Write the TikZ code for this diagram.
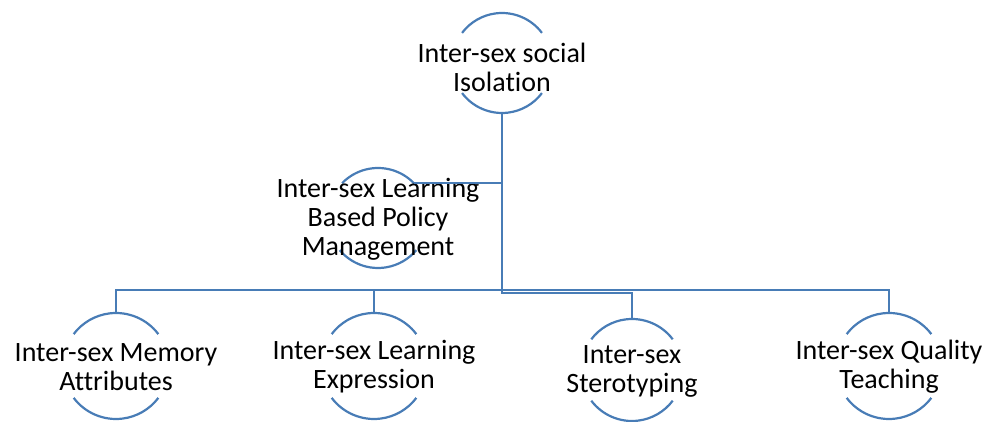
\documentclass[tikz,border=0pt]{standalone}
\usepackage{fontspec}
\setmainfont{Carlito}[Ligatures={NoCommon}]
\definecolor{lineblue}{RGB}{72,124,182}
\begin{document}
\begin{tikzpicture}[x=1pt,y=1pt,
  conn/.style={draw=lineblue,line width=2.2pt},
  arcline/.style={draw=lineblue,line width=2.2pt},
  lbl/.style={align=center,inner sep=0pt,font=\fontsize{28}{29}\selectfont}]
\useasboundingbox (0,0) rectangle (1003,422);
% centres
\coordinate (cT) at (502,359);
\coordinate (cM) at (378,204);
\coordinate (c1) at (116,56);
\coordinate (c2) at (374,56);
\coordinate (c3) at (632,52);
\coordinate (c4) at (889,56);
% circle arcs
\draw[arcline] (cT) ++(37:50) arc[start angle=37,end angle=143,radius=50];
\draw[arcline] (cT) ++(217:50) arc[start angle=217,end angle=323,radius=50];
\draw[arcline] (cM) ++(44:50) arc[start angle=44,end angle=136,radius=50];
\draw[arcline] (cM) ++(220:50) arc[start angle=220,end angle=320,radius=50];
\foreach \c in {c1,c2,c4}{
  \draw[arcline] (\c) ++(37:53) arc[start angle=37,end angle=143,radius=53];
  \draw[arcline] (\c) ++(217:53) arc[start angle=217,end angle=323,radius=53];
}
\draw[arcline] (c3) ++(37:51) arc[start angle=37,end angle=143,radius=51];
\draw[arcline] (c3) ++(217:51) arc[start angle=217,end angle=323,radius=51];
% connection points
\path (cT) ++(270:50) coordinate (tS);
\path (cM) ++(44:50) coordinate (mE);
\path (c1) ++(90:53) coordinate (n1);
\path (c2) ++(90:53) coordinate (n2);
\path (c3) ++(90:51) coordinate (n3);
\path (c4) ++(90:53) coordinate (n4);
\coordinate (busA) at (502,129);
\coordinate (busB) at (502,132);
% labels
\node[lbl] (top) at ([yshift=-4pt]cT) {Inter-sex social\\Isolation};
\node[lbl] (mid) at ([yshift=-1pt]cM) {Inter-sex Learning\\Based Policy\\Management};
\node[lbl] (b1) at ([yshift=-1pt]c1) {Inter-sex Memory\\Attributes};
\node[lbl] (b2) at ([yshift=-1pt]c2) {Inter-sex Learning\\Expression};
\node[lbl] (b3) at ([yshift=-1pt]c3) {Inter-sex\\Sterotyping};
\node[lbl] (b4) at ([yshift=-1pt]c4) {Inter-sex Quality\\Teaching};
% connectors
\draw[conn] (tS) -- (busA) -| (n3);
\draw[conn] (mE) -- (mE -| tS);
\draw[conn] (n1) |- (busB) -| (n4);
\draw[conn] (n2) -- (n2 |- busB);
\end{tikzpicture}
\end{document}
